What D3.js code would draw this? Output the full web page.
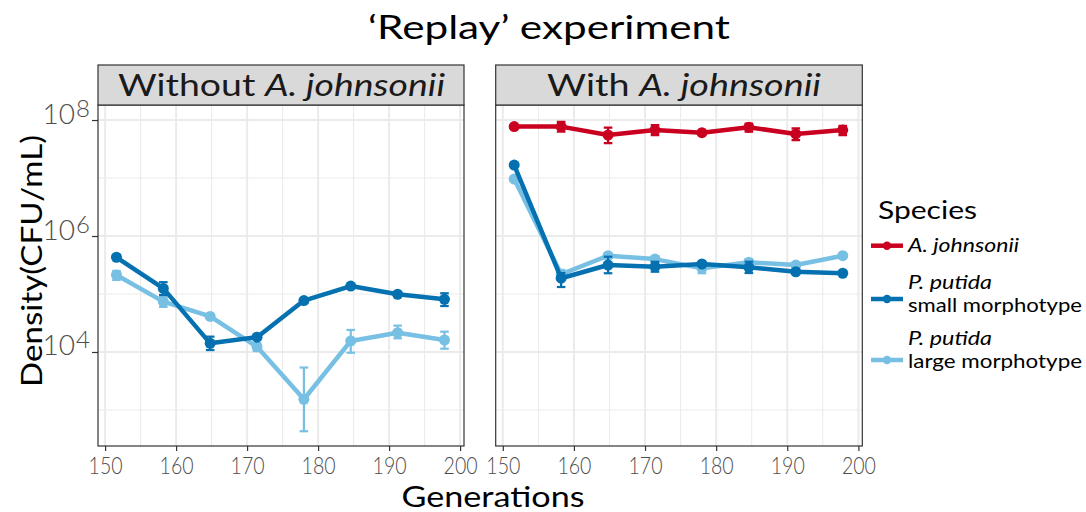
<!DOCTYPE html>
<html><head><meta charset="utf-8">
<script src="https://cdn.jsdelivr.net/npm/d3@7"></script>
<style>
body{margin:0;background:#fff;}
svg{display:block;}
text{font-family:"Lato",sans-serif;}
</style>
</head><body>
<svg id="c" width="1086" height="512"></svg>
<script>
// ---------------- data ----------------
const generations = [151.6, 158.2, 164.8, 171.4, 178.0, 184.6, 191.2, 197.8];
const panelNames = ["Without", "With"];
const speciesNames = ["A. johnsonii", "P. putida small morphotype", "P. putida large morphotype"];
const speciesColors = ["#ca0020", "#0571b0", "#77c0e3"];
const xTicks = [150, 160, 170, 180, 190, 200];
const xMinor = [155, 165, 175, 185, 195];
const yTicks = [1e4, 1e6, 1e8];
const yTickExp = ["4", "6", "8"];
const yMinor = [1e3, 1e5, 1e7];

// Without A. johnsonii
const withoutSmall   = [4.3e5, 1.25e5, 1.41e4, 1.8e4, 7.7e4, 1.37e5, 9.9e4, 8.1e4];
const withoutSmallLo = [4.0e5, 9.6e4, 1.08e4, 1.65e4, 7.1e4, 1.27e5, 9.2e4, 6.2e4];
const withoutSmallHi = [4.6e5, 1.6e5, 1.84e4, 1.95e4, 8.3e4, 1.47e5, 1.06e5, 1.03e5];
const withoutLarge   = [2.13e5, 7.4e4, 4.1e4, 1.23e4, 1.53e3, 1.55e4, 2.15e4, 1.61e4];
const withoutLargeLo = [1.75e5, 6.0e4, 3.8e4, 1.04e4, 4.3e2, 9.7e3, 1.72e4, 1.14e4];
const withoutLargeHi = [2.5e5, 8.8e4, 4.4e4, 1.42e4, 5.4e3, 2.4e4, 2.85e4, 2.24e4];
// With A. johnsonii
const withAj     = [7.7e7, 7.7e7, 5.5e7, 6.7e7, 6.05e7, 7.5e7, 5.75e7, 6.7e7];
const withAjLo   = [7.3e7, 6.3e7, 4.0e7, 5.5e7, 5.7e7, 6.3e7, 4.5e7, 5.5e7];
const withAjHi   = [8.1e7, 9.3e7, 7.4e7, 8.2e7, 6.4e7, 8.7e7, 7.2e7, 7.9e7];
const withSmall   = [1.67e7, 1.87e5, 3.16e5, 2.96e5, 3.29e5, 2.88e5, 2.42e5, 2.28e5];
const withSmallLo = [1.6e7, 1.32e5, 2.28e5, 2.42e5, 3.1e5, 2.3e5, 2.25e5, 2.15e5];
const withSmallHi = [1.75e7, 2.3e5, 4.4e5, 3.6e5, 3.5e5, 3.6e5, 2.6e5, 2.42e5];
const withLarge   = [9.6e6, 2.19e5, 4.57e5, 4.0e5, 2.77e5, 3.52e5, 3.16e5, 4.57e5];
const withLargeLo = [9.1e6, 1.74e5, 4.2e5, 3.6e5, 2.28e5, 2.95e5, 2.95e5, 4.3e5];
const withLargeHi = [1.01e7, 2.6e5, 4.9e5, 4.45e5, 3.29e5, 4.0e5, 3.4e5, 4.85e5];

// ---------------- build series ----------------
function mk(species, vals, lo, hi){
  return {species, color: speciesColors[speciesNames.indexOf(species)],
    pts: generations.map((g,i)=>({g, v: vals[i], lo: lo[i], hi: hi[i]}))};
}
const panelsData = [
  {title: panelNames[0], series: [
    mk(speciesNames[2], withoutLarge, withoutLargeLo, withoutLargeHi),
    mk(speciesNames[1], withoutSmall, withoutSmallLo, withoutSmallHi)]},
  {title: panelNames[1], series: [
    mk(speciesNames[2], withLarge, withLargeLo, withLargeHi),
    mk(speciesNames[1], withSmall, withSmallLo, withSmallHi),
    mk(speciesNames[0], withAj, withAjLo, withAjHi)]}
];

// ---------------- layout ----------------
const svg = d3.select("#c");
const panelTop = 105, panelBottom = 446, stripTop = 65;
const panelX = [[98, 464], [495.7, 862.3]];
const stripCenter = [281.5, 684];
const y = d3.scaleLog().domain([Math.pow(10, 2.379), Math.pow(10, 8.259)]).range([panelBottom, panelTop]);
const grid = "#ebebeb", dark = "#333333", tickCol = "#4d4d4d";

function fit(sel, w){ sel.attr("textLength", w).attr("lengthAdjust", "spacingAndGlyphs"); return sel; }

panelsData.forEach((p, pi) => {
  const [x0, x1] = panelX[pi];
  const x = d3.scaleLinear().domain([149.0, 200.55]).range([x0, x1]);
  const g = svg.append("g");
  // grid
  g.selectAll(".ym").data(yMinor).join("line")
    .attr("x1", x0).attr("x2", x1).attr("y1", d=>y(d)).attr("y2", d=>y(d))
    .attr("stroke", grid).attr("stroke-width", 1);
  g.selectAll(".xm").data(xMinor).join("line")
    .attr("y1", panelTop).attr("y2", panelBottom).attr("x1", d=>x(d)).attr("x2", d=>x(d))
    .attr("stroke", grid).attr("stroke-width", 1);
  g.selectAll(".yM").data(yTicks).join("line")
    .attr("x1", x0).attr("x2", x1).attr("y1", d=>y(d)).attr("y2", d=>y(d))
    .attr("stroke", grid).attr("stroke-width", 2);
  g.selectAll(".xM").data(xTicks).join("line")
    .attr("y1", panelTop).attr("y2", panelBottom).attr("x1", d=>x(d)).attr("x2", d=>x(d))
    .attr("stroke", grid).attr("stroke-width", 2);

  // series
  const clipId = "clip" + pi;
  svg.append("clipPath").attr("id", clipId).append("rect")
    .attr("x", x0).attr("y", panelTop).attr("width", x1-x0).attr("height", panelBottom-panelTop);
  const dg = g.append("g").attr("clip-path", `url(#${clipId})`);
  const line = d3.line().x(d=>x(d.g)).y(d=>y(d.v));
  p.series.forEach(s => {
    const sg = dg.append("g");
    sg.append("path").datum(s.pts).attr("d", line).attr("fill", "none")
      .attr("stroke", s.color).attr("stroke-width", 4.5).attr("stroke-linejoin", "round");
    sg.selectAll("circle").data(s.pts).join("circle")
      .attr("cx", d=>x(d.g)).attr("cy", d=>y(d.v)).attr("r", 5.5).attr("fill", s.color);
    const eb = sg.selectAll(".eb").data(s.pts).join("g").attr("stroke", s.color).attr("stroke-width", 2.2);
    eb.append("line").attr("x1", d=>x(d.g)).attr("x2", d=>x(d.g)).attr("y1", d=>y(d.lo)).attr("y2", d=>y(d.hi));
    eb.append("line").attr("x1", d=>x(d.g)-4.3).attr("x2", d=>x(d.g)+4.3).attr("y1", d=>y(d.lo)).attr("y2", d=>y(d.lo));
    eb.append("line").attr("x1", d=>x(d.g)-4.3).attr("x2", d=>x(d.g)+4.3).attr("y1", d=>y(d.hi)).attr("y2", d=>y(d.hi));
  });

  // border
  g.append("rect").attr("x", x0).attr("y", panelTop).attr("width", x1-x0).attr("height", panelBottom-panelTop)
    .attr("fill", "none").attr("stroke", dark).attr("stroke-width", 1.2);
  // strip
  g.append("rect").attr("x", x0).attr("y", stripTop).attr("width", x1-x0).attr("height", panelTop-stripTop)
    .attr("fill", "#d9d9d9").attr("stroke", dark).attr("stroke-width", 1.2);
  const st = g.append("text").attr("x", stripCenter[pi]).attr("y", 95.5).attr("text-anchor", "middle")
    .attr("font-size", 31).attr("fill", "#1a1a1a");
  st.append("tspan").text(p.title + " ");
  st.append("tspan").attr("font-style", "italic").text("A. johnsonii");
  fit(st, pi === 0 ? 327 : 274);

  // x axis
  const xa = g.append("g").attr("transform", `translate(0,${panelBottom})`)
    .call(d3.axisBottom(x).tickValues(xTicks).tickSize(5).tickPadding(4).tickFormat(d3.format("d")));
  xa.select(".domain").remove();
  xa.selectAll("line").attr("stroke", dark).attr("stroke-width", 1.2);
  xa.selectAll("text").attr("font-family", "Lato, sans-serif").attr("font-size", 22.5).attr("font-weight", 300)
    .attr("fill", tickCol).attr("dy", null).attr("y", 28).each(function(){ fit(d3.select(this), 34); });

  if (pi === 0) {
    const ya = g.append("g").attr("transform", `translate(${x0},0)`)
      .call(d3.axisLeft(y).tickValues(yTicks).tickSize(6).tickPadding(2).tickFormat(""));
    ya.select(".domain").remove();
    ya.selectAll("line").attr("stroke", dark).attr("stroke-width", 1.2);
    ya.selectAll(".tick text").each(function(d, i){
      const t = d3.select(this).attr("font-size", 28).attr("font-weight", 300).attr("fill", tickCol)
        .attr("x", -8).attr("dy", null).attr("y", 3).attr("text-anchor", "end");
      t.append("tspan").text("10");
      t.append("tspan").attr("dy", -7).attr("dx", 1).attr("font-size", 24).text(yTickExp[i]);
    });
  }
});

// titles
fit(svg.append("text").attr("x", 549).attr("y", 39).attr("text-anchor", "middle")
  .attr("font-size", 33).attr("fill", "#000")
  .text("\u2018Replay\u2019 experiment"), 362);
fit(svg.append("text").attr("x", 493).attr("y", 506.5).attr("text-anchor", "middle")
  .attr("font-size", 28).attr("fill", "#000").text("Generations"), 183);
fit(svg.append("text").attr("transform", "translate(42,261) rotate(-90)").attr("text-anchor", "middle")
  .attr("font-size", 28).attr("fill", "#000").text("Density(CFU/mL)"), 252);

// legend
const lg = svg.append("g");
fit(lg.append("text").attr("x", 878).attr("y", 218.5)
  .attr("font-size", 25).attr("fill", "#000").text("Species"), 99);
const legendItems = [
  {sp: 0, ky: 245.7, lines: [{t: "A. johnsonii", it: true, y: 252, w: 111}]},
  {sp: 1, ky: 299, lines: [{t: "P. putida", it: true, y: 288.5, w: 84}, {t: "small morphotype", it: false, y: 312, w: 174}]},
  {sp: 2, ky: 360, lines: [{t: "P. putida", it: true, y: 344.5, w: 84}, {t: "large morphotype", it: false, y: 368, w: 174}]}
];
legendItems.forEach(it => {
  const c = speciesColors[it.sp];
  lg.append("line").attr("x1", 871).attr("x2", 903).attr("y1", it.ky).attr("y2", it.ky)
    .attr("stroke", c).attr("stroke-width", 4.5);
  lg.append("circle").attr("cx", 887).attr("cy", it.ky).attr("r", 4.2).attr("fill", c);
  it.lines.forEach(l => {
    fit(lg.append("text").attr("x", 908).attr("y", l.y)
      .attr("font-size", 20).attr("font-style", l.it ? "italic" : "normal").attr("fill", "#000").text(l.t), l.w);
  });
});
</script>
</body></html>
